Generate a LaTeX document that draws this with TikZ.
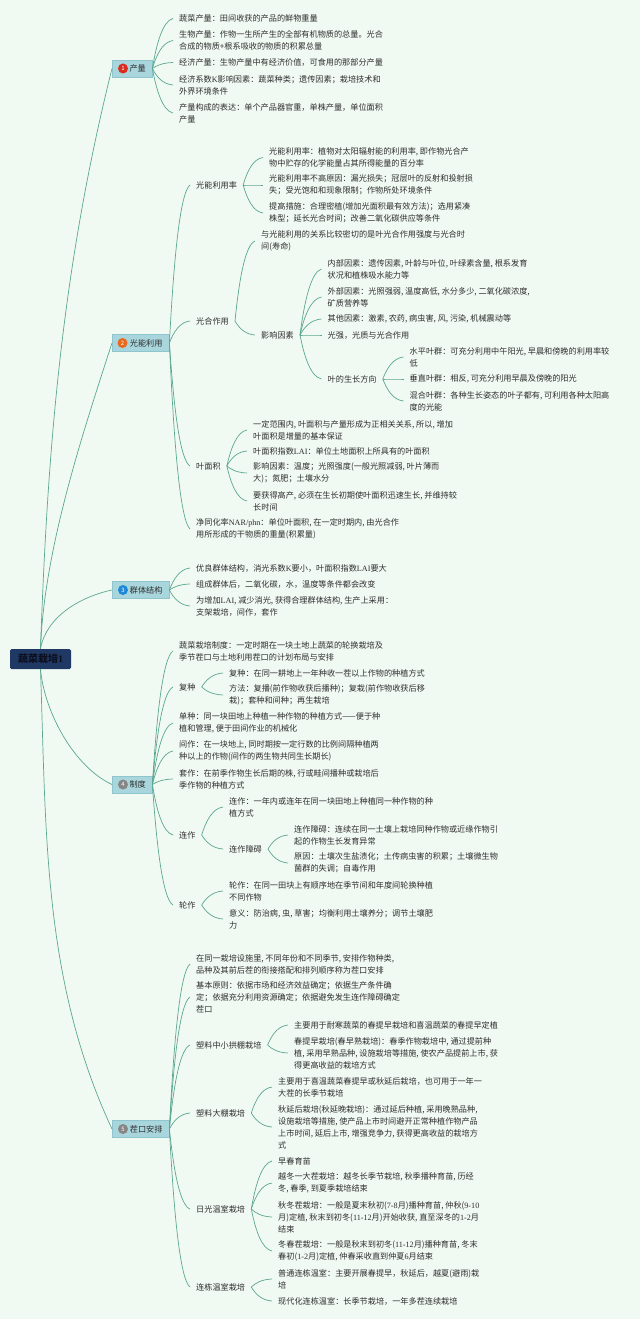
\documentclass[tikz,border=0pt]{standalone}
\usepackage{fontspec}
\setmainfont{Noto Sans CJK SC}
\newfontfamily\latf{Liberation Serif}
\newcommand{\lat}[1]{{\latf #1}}
\definecolor{pagebg}{HTML}{F1F9F3}
\definecolor{twig}{HTML}{5AA88E}
\definecolor{boxfill}{HTML}{A9D6DC}
\definecolor{boxedge}{HTML}{8FC5CC}
\definecolor{inktext}{HTML}{2E2E2E}
\definecolor{rootblue}{HTML}{1F3864}
\definecolor{rootink}{HTML}{0B0F1E}
\definecolor{badgered}{HTML}{D92B1E}
\definecolor{badgeorange}{HTML}{E8681E}
\definecolor{badgeblue}{HTML}{1E88D8}
\definecolor{badgegray}{HTML}{858585}
\usetikzlibrary{calc}
\tikzset{
  leaf/.style={anchor=west,align=left,inner xsep=6pt,inner ysep=0pt,text=inktext,font=\fontsize{8.15}{12}\selectfont},
  topic/.style={draw=boxedge,fill=boxfill,anchor=west,minimum height=17pt,inner xsep=6pt,inner ysep=0pt,text=inktext,font=\fontsize{8.15}{12}\selectfont},
  badge/.style={circle,minimum size=10pt,inner sep=0pt,text=white,font=\fontsize{6}{6}\selectfont},
  rootbox/.style={fill=rootblue,rounded corners=1.5pt,minimum width=61pt,minimum height=20pt,inner sep=0pt,text=rootink,font=\fontsize{10}{12}\selectfont\bfseries},
  twigline/.style={draw=twig,line width=.7pt},
  branch/.style={twigline,to path={let \p1=(\tikztostart),\p2=(\tikztotarget) in
    .. controls ({\x1+.2*(\x2-\x1)},{\y1+.5*(\y2-\y1)}) and ({\x1+.5*(\x2-\x1)},{\y1+.95*(\y2-\y1)}) .. (\tikztotarget)}}
}
\begin{document}
\begin{tikzpicture}[x=1pt,y=-1pt]
  \fill[pagebg] (0,0) rectangle (640,1319);
  \useasboundingbox (0,0) rectangle (640,1319);

  \node[rootbox] (root) at (40.5,659) {蔬菜栽培\lat{1}};

  \node[topic,minimum width=40pt] (yield) at (112,68.5) {\hspace*{11pt}产量};
  \node[leaf] (y1) at (173,18.5) {蔬菜产量：田间收获的产品的鲜物重量};
  \node[leaf] (y2) at (173,40.5) {生物产量：作物一生所产生的全部有机物质的总量。光合\\合成的物质+根系吸收的物质的积累总量};
  \node[leaf] (y3) at (173,62.5) {经济产量：生物产量中有经济价值，可食用的那部分产量};
  \node[leaf] (y4) at (173,85) {经济系数\lat{K}影响因素：蔬菜种类；遗传因素；栽培技术和\\外界环境条件};
  \node[leaf] (y5) at (173,113) {产量构成的表达：单个产品器官重，单株产量，单位面积\\产量};

  \node[topic,minimum width=57pt] (light) at (112,343) {\hspace*{11pt}光能利用};
  \node[leaf] (lu) at (190,185) {光能利用率};
  \node[leaf] (lu1) at (263,157.5) {光能利用率：植物对太阳辐射能的利用率, 即作物光合产\\物中贮存的化学能量占其所得能量的百分率};
  \node[leaf] (lu2) at (263,185) {光能利用率不高原因：漏光损失；冠层叶的反射和投射损\\失；受光饱和和现象限制；作物所处环境条件};
  \node[leaf] (lu3) at (263,213) {提高措施：合理密植(增加光面积最有效方法)；选用紧凑\\株型；延长光合时间；改善二氧化碳供应等条件};
  \node[leaf] (ps) at (190,321) {光合作用};
  \node[leaf] (ps1) at (255,241) {与光能利用的关系比较密切的是叶光合作用强度与光合时\\间(寿命)};
  \node[leaf] (ps2) at (255,335) {影响因素};
  \node[leaf] (f1) at (321.5,269) {内部因素：遗传因素, 叶龄与叶位, 叶绿素含量, 根系发育\\状况和植株吸水能力等};
  \node[leaf] (f2) at (321.5,297) {外部因素：光照强弱, 温度高低, 水分多少, 二氧化碳浓度,\\矿质营养等};
  \node[leaf] (f3) at (321.5,319) {其他因素：激素, 农药, 病虫害, 风, 污染, 机械震动等};
  \node[leaf] (f4) at (321.5,335) {光强，光质与光合作用};
  \node[leaf] (fd) at (321.5,379) {叶的生长方向};
  \node[leaf] (fd1) at (403.5,357) {水平叶群：可充分利用中午阳光, 早晨和傍晚的利用率较\\低};
  \node[leaf] (fd2) at (403.5,379) {垂直叶群：相反, 可充分利用早晨及傍晚的阳光};
  \node[leaf] (fd3) at (403.5,401) {混合叶群：各种生长姿态的叶子都有, 可利用各种太阳高\\度的光能};
  \node[leaf] (la) at (190,466) {叶面积};
  \node[leaf] (la1) at (247,430) {一定范围内, 叶面积与产量形成为正相关关系, 所以, 增加\\叶面积是增量的基本保证};
  \node[leaf] (la2) at (247,451) {叶面积指数\lat{LAI}：单位土地面积上所具有的叶面积};
  \node[leaf] (la3) at (247,473) {影响因素：温度；光照强度(一般光照减弱, 叶片薄而\\大)；氮肥；土壤水分};
  \node[leaf] (la4) at (247,501) {要获得高产, 必须在生长初期使叶面积迅速生长, 并维持较\\长时间};
  \node[leaf] (nar) at (190,529) {净同化率\lat{NAR/phn}：单位叶面积, 在一定时期内, 由光合作\\用所形成的干物质的重量(积累量)};

  \node[topic,minimum width=57pt] (pop) at (112,590) {\hspace*{11pt}群体结构};
  \node[leaf] (pop1) at (190,568) {优良群体结构，消光系数\lat{K}要小，叶面积指数\lat{LAI}要大};
  \node[leaf] (pop2) at (190,584) {组成群体后，二氧化碳，水，温度等条件都会改变};
  \node[leaf] (pop3) at (190,606) {为增加\lat{LAI}, 减少消光, 获得合理群体结构, 生产上采用：\\支架栽培，间作，套作};

  \node[topic,minimum width=40pt] (sys) at (112,784.5) {\hspace*{11pt}制度};
  \node[leaf] (sys1) at (173,651) {蔬菜栽培制度：一定时期在一块土地上蔬菜的轮换栽培及\\季节茬口与土地利用茬口的计划布局与安排};
  \node[leaf] (fz) at (173,687) {复种};
  \node[leaf] (fz1) at (223,673) {复种：在同一耕地上一年种收一茬以上作物的种植方式};
  \node[leaf] (fz2) at (223,695) {方法：复播(前作物收获后播种)；复栽(前作物收获后移\\栽)；套种和间种；再生栽培};
  \node[leaf] (sys2) at (173,723) {单种：同一块田地上种植一种作物的种植方式——便于种\\植和管理, 便于田间作业的机械化};
  \node[leaf] (sys3) at (173,751) {间作：在一块地上, 同时期按一定行数的比例间隔种植两\\种以上的作物(间作的两生物共同生长期长)};
  \node[leaf] (sys4) at (173,779) {套作：在前季作物生长后期的株, 行或畦间播种或栽培后\\季作物的种植方式};
  \node[leaf] (lz) at (173,835) {连作};
  \node[leaf] (lz1) at (223,807) {连作：一年内或连年在同一块田地上种植同一种作物的种\\植方式};
  \node[leaf] (lzb) at (223,849) {连作障碍};
  \node[leaf] (lzb1) at (288,835) {连作障碍：连续在同一土壤上栽培同种作物或近缘作物引\\起的作物生长发育异常};
  \node[leaf] (lzb2) at (288,863) {原因：土壤次生盐渍化；土传病虫害的积累；土壤微生物\\菌群的失调；自毒作用};
  \node[leaf] (rot) at (173,905) {轮作};
  \node[leaf] (rot1) at (223,891) {轮作：在同一田块上有顺序地在季节间和年度间轮换种植\\不同作物};
  \node[leaf] (rot2) at (223,919) {意义：防治病, 虫, 草害；均衡利用土壤养分；调节土壤肥\\力};

  \node[topic,minimum width=57pt] (crop) at (112,1129) {\hspace*{11pt}茬口安排};
  \node[leaf] (crop1) at (190,964) {在同一栽培设施里, 不同年份和不同季节, 安排作物种类,\\品种及其前后茬的衔接搭配和排列顺序称为茬口安排};
  \node[leaf] (crop2) at (190,997) {基本原则：依据市场和经济效益确定；依据生产条件确\\定；依据充分利用资源确定；依据避免发生连作障碍确定\\茬口};
  \node[leaf] (tun) at (190,1045) {塑料中小拱棚栽培};
  \node[leaf] (tun1) at (288,1025) {主要用于耐寒蔬菜的春提早栽培和喜温蔬菜的春提早定植};
  \node[leaf] (tun2) at (288,1053) {春提早栽培(春早熟栽培)：春季作物栽培中, 通过提前种\\植, 采用早熟品种, 设施栽培等措施, 使农产品提前上市, 获\\得更高收益的栽培方式};
  \node[leaf] (big) at (190,1113) {塑料大棚栽培};
  \node[leaf] (big1) at (272,1087) {主要用于喜温蔬菜春提早或秋延后栽培，也可用于一年一\\大茬的长季节栽培};
  \node[leaf] (big2) at (272,1127) {秋延后栽培(秋延晚栽培)：通过延后种植, 采用晚熟品种,\\设施栽培等措施, 使产品上市时间避开正常种植作物产品\\上市时间, 延后上市, 增强竞争力, 获得更高收益的栽培方\\式};
  \node[leaf] (sun) at (190,1209) {日光温室栽培};
  \node[leaf] (sun1) at (272,1161) {早春育苗};
  \node[leaf] (sun2) at (272,1183) {越冬一大茬栽培：越冬长季节栽培, 秋季播种育苗, 历经\\冬, 春季, 到夏季栽培结束};
  \node[leaf] (sun3) at (272,1217) {秋冬茬栽培：一般是夏末秋初(\lat{7-8}月)播种育苗, 仲秋(\lat{9-10}\\月)定植, 秋末到初冬(\lat{11-12}月)开始收获, 直至深冬的\lat{1-2}月\\结束};
  \node[leaf] (sun4) at (272,1251) {冬春茬栽培：一般是秋末到初冬(\lat{11-12}月)播种育苗, 冬末\\春初(\lat{1-2}月)定植, 仲春采收直到仲夏\lat{6}月结束};
  \node[leaf] (mul) at (190,1287) {连栋温室栽培};
  \node[leaf] (mul1) at (272,1279) {普通连栋温室：主要开展春提早，秋延后，越夏(避雨)栽\\培};
  \node[leaf] (mul2) at (272,1301) {现代化连栋温室：长季节栽培，一年多茬连续栽培};

  \node[badge,fill=badgered] (b1) at (123,68.5) {1};
  \node[badge,fill=badgeorange] (b2) at (122.5,343) {2};
  \node[badge,fill=badgeblue] (b3) at (123,590) {3};
  \node[badge,fill=badgegray] (b4) at (123,784.5) {4};
  \node[badge,fill=badgegray] (b5) at (123,1129) {5};

  \draw[twigline] (root.north) to[out=88,in=256,looseness=.9] (yield.west);
  \draw[twigline] (root.north) to[out=88,in=252,looseness=.8] (light.west);
  \draw[twigline] (root.north) to[out=80,in=192,looseness=.9] (pop.west);
  \draw[twigline] (root.south) to[out=-85,in=155,looseness=.8] (sys.west);
  \draw[twigline] (root.south) to[out=-88,in=115,looseness=.9] (crop.west);

  \draw[branch] (yield.east) to (y1.west);
  \draw[branch] (yield.east) to (y2.west);
  \draw[branch] (yield.east) to (y3.west);
  \draw[branch] (yield.east) to (y4.west);
  \draw[branch] (yield.east) to (y5.west);

  \draw[branch] (light.east) to (lu.west);
  \draw[branch] (light.east) to (ps.west);
  \draw[branch] (light.east) to (la.west);
  \draw[branch] (light.east) to (nar.west);
  \draw[branch] (lu.east) to (lu1.west);
  \draw[branch] (lu.east) to (lu2.west);
  \draw[branch] (lu.east) to (lu3.west);
  \draw[branch] (ps.east) to (ps1.west);
  \draw[branch] (ps.east) to (ps2.west);
  \draw[branch] (ps2.east) to (f1.west);
  \draw[branch] (ps2.east) to (f2.west);
  \draw[branch] (ps2.east) to (f3.west);
  \draw[branch] (ps2.east) to (f4.west);
  \draw[branch] (ps2.east) to (fd.west);
  \draw[branch] (fd.east) to (fd1.west);
  \draw[branch] (fd.east) to (fd2.west);
  \draw[branch] (fd.east) to (fd3.west);
  \draw[branch] (la.east) to (la1.west);
  \draw[branch] (la.east) to (la2.west);
  \draw[branch] (la.east) to (la3.west);
  \draw[branch] (la.east) to (la4.west);

  \draw[branch] (pop.east) to (pop1.west);
  \draw[branch] (pop.east) to (pop2.west);
  \draw[branch] (pop.east) to (pop3.west);

  \draw[branch] (sys.east) to (sys1.west);
  \draw[branch] (sys.east) to (fz.west);
  \draw[branch] (sys.east) to (sys2.west);
  \draw[branch] (sys.east) to (sys3.west);
  \draw[branch] (sys.east) to (sys4.west);
  \draw[branch] (sys.east) to (lz.west);
  \draw[branch] (sys.east) to (rot.west);
  \draw[branch] (fz.east) to (fz1.west);
  \draw[branch] (fz.east) to (fz2.west);
  \draw[branch] (lz.east) to (lz1.west);
  \draw[branch] (lz.east) to (lzb.west);
  \draw[branch] (lzb.east) to (lzb1.west);
  \draw[branch] (lzb.east) to (lzb2.west);
  \draw[branch] (rot.east) to (rot1.west);
  \draw[branch] (rot.east) to (rot2.west);

  \draw[branch] (crop.east) to (crop1.west);
  \draw[branch] (crop.east) to (crop2.west);
  \draw[branch] (crop.east) to (tun.west);
  \draw[branch] (crop.east) to (big.west);
  \draw[branch] (crop.east) to (sun.west);
  \draw[branch] (crop.east) to (mul.west);
  \draw[branch] (tun.east) to (tun1.west);
  \draw[branch] (tun.east) to (tun2.west);
  \draw[branch] (big.east) to (big1.west);
  \draw[branch] (big.east) to (big2.west);
  \draw[branch] (sun.east) to (sun1.west);
  \draw[branch] (sun.east) to (sun2.west);
  \draw[branch] (sun.east) to (sun3.west);
  \draw[branch] (sun.east) to (sun4.west);
  \draw[branch] (mul.east) to (mul1.west);
  \draw[branch] (mul.east) to (mul2.west);
\end{tikzpicture}
\end{document}
